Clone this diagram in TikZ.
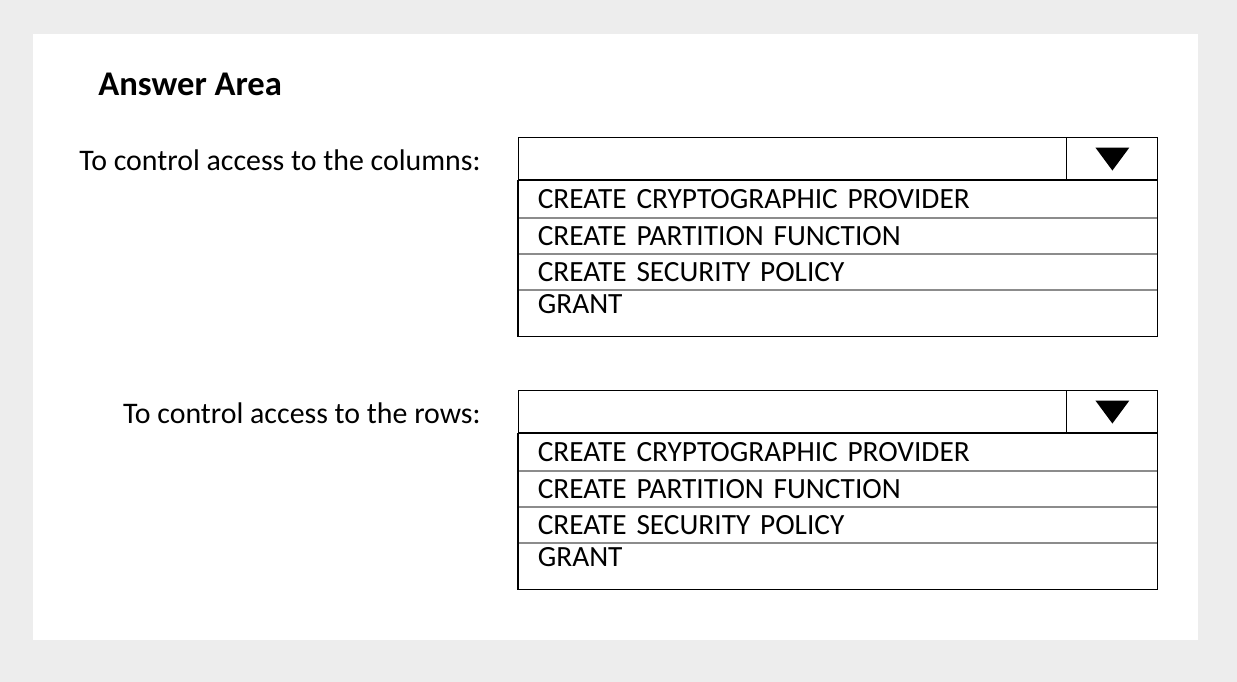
\documentclass[tikz,border=0pt]{standalone}
\usepackage{fontspec}
\setmainfont{Carlito}
\usetikzlibrary{positioning}

\begin{document}
\begin{tikzpicture}[x=0.02cm, y=-0.02cm,
    optcell/.style = {draw=black!45, line width=0.4pt, anchor=north west,
                    minimum width=639*0.02cm, text width=600*0.02cm,
                    inner xsep=19*0.02cm, inner ysep=0pt, align=left,
                    font=\fontsize{16.7}{19}\selectfont},
    lbl/.style = {anchor=east, inner sep=0pt, font=\fontsize{17}{20}\selectfont}
                            ]
    \fill[black!7] (0,0) rectangle (1237,682);
    \fill[white] (33,34) rectangle (1198,640);
    \useasboundingbox (0,0) rectangle (1237,682);

    \node (title) [anchor=west, inner sep=0pt, font=\bfseries\fontsize{19.7}{23}\selectfont]
        at (98,84) {Answer Area};

    % two drop-down lists
    \foreach \name/\top/\txt in {cols/137/To control access to the columns:,
                                 rows/390/To control access to the rows:} {
        \node (\name-lbl) [lbl] at (481,\top+23) {\txt};
        \node (\name-head) [optcell, draw=black, line width=0.8pt, minimum height=42*0.02cm] at (518,\top) {};
        \node (\name-btn) [draw, line width=0.6pt, anchor=north east,
                minimum width=91*0.02cm, minimum height=42*0.02cm]
            at (\name-head.north east) {};
        \fill (\name-btn.center) ++(-17,-11) -- ++(34,0) -- ++(-17,23) -- cycle;
        \node (\name-o1) [optcell, minimum height=37*0.02cm, below=0pt of \name-head.south west, anchor=north west]
            {CREATE CRYPTOGRAPHIC PROVIDER};
        \node (\name-o2) [optcell, minimum height=35*0.02cm, below=0pt of \name-o1.south west, anchor=north west]
            {CREATE PARTITION FUNCTION};
        \node (\name-o3) [optcell, minimum height=35*0.02cm, below=0pt of \name-o2.south west, anchor=north west]
            {CREATE SECURITY POLICY};
        \node (\name-o4) [optcell, minimum height=46*0.02cm, below=0pt of \name-o3.south west, anchor=north west,
                text depth=18*0.02cm]
            {GRANT};
        \draw[line width=0.8pt] (\name-head.south west) rectangle (\name-o4.south east);
    }
\end{tikzpicture}
\end{document}
